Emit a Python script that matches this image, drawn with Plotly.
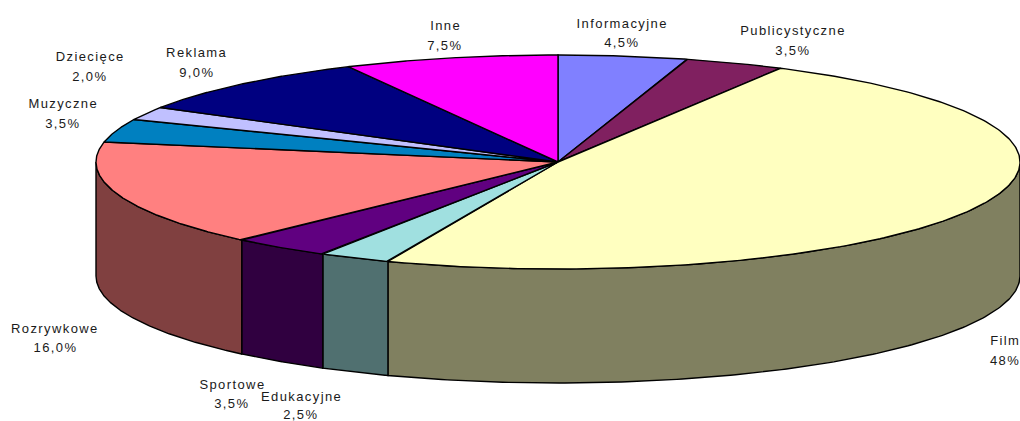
import numpy as np
import plotly.graph_objects as go

categories = ["Informacyjne", "Publicystyczne", "Film", "Edukacyjne", "Sportowe",
              "Rozrywkowe", "Muzyczne", "Dziecięce", "Reklama", "Inne"]
shares = [4.5, 3.5, 48, 2.5, 3.5, 16, 3.5, 2, 9, 7.5]
value_labels = ["4,5%", "3,5%", "48%", "2,5%", "3,5%", "16,0%", "3,5%", "2,0%", "9,0%", "7,5%"]
top_colors = ["#8080FF", "#802060", "#FFFFC0", "#A0E0E0", "#600080",
              "#FF8080", "#0080C0", "#C0C0FF", "#000080", "#FF00FF"]
side_colors = ["#404080", "#401030", "#808060", "#507070", "#300040",
               "#804040", "#004060", "#606080", "#000040", "#800080"]
label_x = [622, 793, 1005, 301, 232, 55, 63, 90, 197, 445]
name_y = [23, 30, 340, 396, 384, 328, 103, 56, 52, 25]
value_y = [42, 50, 360, 414, 403, 347, 123, 76, 72, 45]

CX, CY, RX, RY, DEPTH = 558, 162, 462, 107, 114
EDGE = "#000000"

def px(t):
    return CX + RX * np.sin(t)

def py(t):
    return CY - RY * np.cos(t)

fig = go.Figure()
fractions = np.cumsum([0] + shares) / sum(shares) * 2 * np.pi

# visible outer walls (front half of the disc only)
for a, b, color in zip(fractions[:-1], fractions[1:], side_colors):
    lo, hi = max(a, np.pi / 2), min(b, 3 * np.pi / 2)
    if hi <= lo:
        continue
    t = np.linspace(lo, hi, 160)
    xs = np.concatenate([px(t), px(t[::-1])])
    ys = np.concatenate([py(t), py(t[::-1]) + DEPTH])
    fig.add_trace(go.Scatter(x=np.append(xs, xs[0]), y=np.append(ys, ys[0]), mode="lines",
                             fill="toself", fillcolor=color,
                             line=dict(color=EDGE, width=1.4), hoverinfo="skip"))

# top slices
for a, b, color in zip(fractions[:-1], fractions[1:], top_colors):
    t = np.linspace(a, b, 240)
    xs = np.concatenate([[CX], px(t), [CX]])
    ys = np.concatenate([[CY], py(t), [CY]])
    fig.add_trace(go.Scatter(x=xs, y=ys, mode="lines", fill="toself", fillcolor=color,
                             line=dict(color=EDGE, width=1.4), hoverinfo="skip"))

FONT = dict(family="Liberation Sans, Arial, sans-serif", size=13, color="#1a1a1a")
for name, val, x, y1, y2 in zip(categories, value_labels, label_x, name_y, value_y):
    fig.add_annotation(x=x, y=y1, text=name, showarrow=False, xanchor="center", yanchor="middle", font=FONT)
    fig.add_annotation(x=x, y=y2, text=val, showarrow=False, xanchor="center", yanchor="middle", font=FONT)

fig.update_layout(width=1020, height=421, margin=dict(l=0, r=0, t=0, b=0),
                  paper_bgcolor="white", plot_bgcolor="white", showlegend=False,
                  xaxis=dict(range=[0, 1020], visible=False, fixedrange=True),
                  yaxis=dict(range=[421, 0], visible=False, fixedrange=True))
post = ("document.body.style.margin='0';"
        "document.querySelectorAll('.annotation-text').forEach(function(e){e.style.letterSpacing='1.4px';});")
fig.write_html("out.html", config={"displayModeBar": False}, post_script=post)
